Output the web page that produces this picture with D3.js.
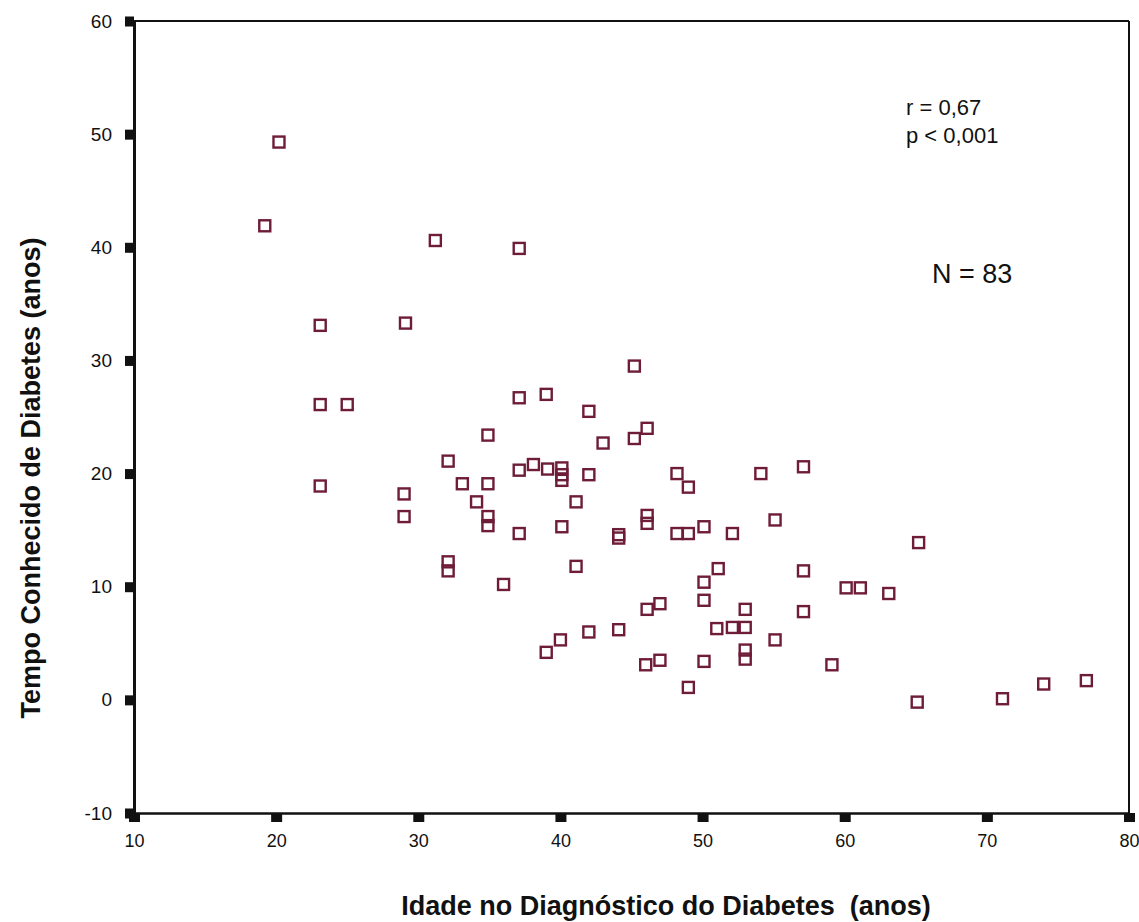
<!DOCTYPE html>
<html lang="pt">
<head>
    <meta charset="UTF-8">
    <title>Idade no Diagnóstico x Tempo Conhecido de Diabetes</title>
    <script src="https://cdnjs.cloudflare.com/ajax/libs/d3/7.8.5/d3.min.js"></script>
    <style>
        body { margin: 0; background: #fff; }
        svg { display: block; font-family: "Liberation Sans", Arial, sans-serif; }
        .tick text { fill: #111; }
    </style>
</head>
<body>
    <svg id="chart" width="1139" height="922"></svg>

    <script>
        // idade no diagnóstico (anos)
        const ageAtDiagnosis = [
            20.2, 19.2, 31.2, 37.1, 23.1, 29.1, 23.1, 25.0, 23.1, 29.0,
            29.0, 45.2, 37.1, 39.0, 42.0, 34.9, 43.0, 45.2, 46.1, 32.1,
            33.1, 34.9, 37.1, 38.1, 39.1, 40.1, 40.1, 40.1, 42.0, 34.1,
            41.1, 34.9, 34.9, 37.1, 40.1, 32.1, 32.1, 36.0, 41.1, 44.1,
            44.1, 46.1, 46.1, 48.2, 49.0, 48.2, 49.0, 50.1, 52.1, 54.1,
            57.1, 55.1, 51.1, 50.1, 50.1, 57.1, 57.1, 60.1, 61.1, 63.1,
            65.2, 47.0, 46.1, 42.0, 44.1, 39.0, 40.0, 46.0, 47.0, 50.1,
            49.0, 51.0, 52.1, 53.0, 53.0, 53.0, 53.0, 55.1, 59.1, 65.1,
            71.1, 74.0, 77.0
        ];
        // tempo conhecido de diabetes (anos)
        const yearsKnown = [
            49.3, 41.9, 40.6, 39.9, 33.1, 33.3, 26.1, 26.1, 18.9, 18.2,
            16.2, 29.5, 26.7, 27.0, 25.5, 23.4, 22.7, 23.1, 24.0, 21.1,
            19.1, 19.1, 20.3, 20.8, 20.4, 20.5, 19.9, 19.4, 19.9, 17.5,
            17.5, 16.2, 15.4, 14.7, 15.3, 12.2, 11.4, 10.2, 11.8, 14.6,
            14.3, 16.3, 15.6, 20.0, 18.8, 14.7, 14.7, 15.3, 14.7, 20.0,
            20.6, 15.9, 11.6, 10.4, 8.8, 11.4, 7.8, 9.9, 9.9, 9.4,
            13.9, 8.5, 8.0, 6.0, 6.2, 4.2, 5.3, 3.1, 3.5, 3.4,
            1.1, 6.3, 6.4, 6.4, 8.0, 4.4, 3.6, 5.3, 3.1, -0.2,
            0.1, 1.4, 1.7
        ];

        const xTicks = [10, 20, 30, 40, 50, 60, 70, 80];
        const yTicks = [-10, 0, 10, 20, 30, 40, 50, 60];
        const xTitle = "Idade no Diagnóstico do Diabetes  (anos)";
        const yTitle = "Tempo Conhecido de Diabetes (anos)";
        const statLines = ["r = 0,67", "p < 0,001"];
        const nLabel = "N = 83";

        const svg = d3.select("#chart");
        svg.append("rect").attr("width", 1139).attr("height", 922).attr("fill", "#fff");

        const x = d3.scaleLinear().domain([10, 80]).range([134, 1129]);
        const y = d3.scaleLinear().domain([-10, 60]).range([813, 21]);

        const points = ageAtDiagnosis.map((a, i) => ({ age: a, years: yearsKnown[i] }));

        // frame (top and right thinner)
        svg.append("line")
            .attr("x1", x(10)).attr("x2", x(80)).attr("y1", y(60)).attr("y2", y(60))
            .attr("stroke", "#111").attr("stroke-width", 2);
        svg.append("line")
            .attr("x1", x(80)).attr("x2", x(80)).attr("y1", y(60)).attr("y2", y(-10))
            .attr("stroke", "#111").attr("stroke-width", 2);

        // y axis (plain hyphen for negatives, as in the original)
        const yAxis = svg.append("g")
            .attr("transform", `translate(${x(10)},0)`)
            .call(d3.axisLeft(y).tickValues(yTicks).tickFormat(d => String(d))
                .tickSize(0).tickPadding(22));
        yAxis.select(".domain").attr("stroke", "#111").attr("stroke-width", 3);
        yAxis.selectAll(".tick text")
            .attr("font-size", 19)
            .attr("font-family", "Liberation Sans, Arial, sans-serif");
        yAxis.selectAll(".tick").append("rect")
            .attr("x", -9).attr("y", -5).attr("width", 9).attr("height", 10)
            .attr("fill", "#111");

        // x axis
        const xAxis = svg.append("g")
            .attr("transform", `translate(0,${y(-10)})`)
            .call(d3.axisBottom(x).tickValues(xTicks).tickFormat(d => String(d))
                .tickSize(0).tickPadding(21));
        xAxis.select(".domain").attr("stroke", "#111").attr("stroke-width", 2.5);
        xAxis.selectAll(".tick text")
            .attr("font-size", 18)
            .attr("font-family", "Liberation Sans, Arial, sans-serif");
        xAxis.selectAll(".tick").append("rect")
            .attr("x", -5.5).attr("y", 0).attr("width", 11).attr("height", 9)
            .attr("fill", "#111");

        // points
        const s = 11;
        svg.append("g")
            .selectAll("rect")
            .data(points)
            .enter()
            .append("rect")
            .attr("x", d => x(d.age) - s / 2)
            .attr("y", d => y(d.years) - s / 2)
            .attr("width", s)
            .attr("height", s)
            .attr("fill", "#fff")
            .attr("fill-opacity", 0)
            .attr("stroke", "#6e1c38")
            .attr("stroke-width", 2.4);

        // annotations
        svg.append("g")
            .selectAll("text")
            .data(statLines)
            .enter()
            .append("text")
            .attr("x", 906)
            .attr("y", (d, i) => 115 + i * 28)
            .attr("font-size", 22)
            .attr("fill", "#111")
            .text(d => d);

        svg.append("text")
            .attr("x", 932).attr("y", 283)
            .attr("font-size", 27)
            .attr("fill", "#111")
            .text(nLabel);

        // titles
        svg.append("text")
            .attr("x", 666).attr("y", 915)
            .attr("text-anchor", "middle")
            .attr("font-size", 27)
            .attr("font-weight", "bold")
            .style("white-space", "pre")
            .attr("fill", "#111")
            .text(xTitle);

        svg.append("text")
            .attr("transform", "translate(40,478) rotate(-90)")
            .attr("text-anchor", "middle")
            .attr("font-size", 27)
            .attr("font-weight", "bold")
            .attr("fill", "#111")
            .text(yTitle);
    </script>
</body>
</html>
